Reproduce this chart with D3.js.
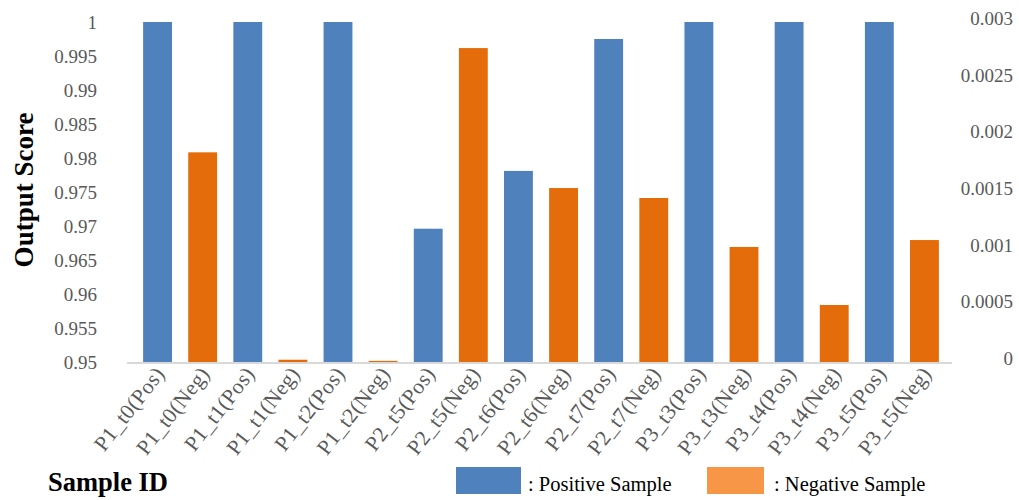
<!DOCTYPE html>
<html>
<head>
<meta charset="utf-8">
<script src="https://cdn.jsdelivr.net/npm/d3@7"></script>
<style>
  html, body { margin: 0; padding: 0; background: #fff; }
  svg { display: block; }
</style>
</head>
<body>
<svg id="chart" width="1019" height="500"></svg>
<script>
// Sample IDs along the x axis
const categories = [
  "P1_t0(Pos)", "P1_t0(Neg)", "P1_t1(Pos)", "P1_t1(Neg)", "P1_t2(Pos)", "P1_t2(Neg)",
  "P2_t5(Pos)", "P2_t5(Neg)", "P2_t6(Pos)", "P2_t6(Neg)", "P2_t7(Pos)", "P2_t7(Neg)",
  "P3_t3(Pos)", "P3_t3(Neg)", "P3_t4(Pos)", "P3_t4(Neg)", "P3_t5(Pos)", "P3_t5(Neg)"
];
// Positive samples: output score on the left axis
const positiveIds = ["P1_t0(Pos)", "P1_t1(Pos)", "P1_t2(Pos)", "P2_t5(Pos)", "P2_t6(Pos)",
                     "P2_t7(Pos)", "P3_t3(Pos)", "P3_t4(Pos)", "P3_t5(Pos)"];
const positiveScores = [1.0, 1.0, 1.0, 0.9696, 0.9781, 0.9975, 1.0, 1.0, 1.0];
// Negative samples: output score on the right axis
const negativeIds = ["P1_t0(Neg)", "P1_t1(Neg)", "P1_t2(Neg)", "P2_t5(Neg)", "P2_t6(Neg)",
                     "P2_t7(Neg)", "P3_t3(Neg)", "P3_t4(Neg)", "P3_t5(Neg)"];
const negativeScores = [0.00185, 0.00002, 0.00001, 0.00277, 0.001535, 0.001447, 0.001015, 0.000503, 0.001076];
// Axis ticks
const leftTicks = [0.95, 0.955, 0.96, 0.965, 0.97, 0.975, 0.98, 0.985, 0.99, 0.995, 1];
const leftTickLabels = ["0.95", "0.955", "0.96", "0.965", "0.97", "0.975", "0.98", "0.985", "0.99", "0.995", "1"];
const rightTicks = [0, 0.0005, 0.001, 0.0015, 0.002, 0.0025, 0.003];
const rightTickLabels = ["0", "0.0005", "0.001", "0.0015", "0.002", "0.0025", "0.003"];

const BLUE = "#4F81BD", ORANGE = "#E46C0A", ORANGE_LEGEND = "#F79646";
const TICK_COLOR = "#595959", AXIS_COLOR = "#D9D9D9";
const SERIF = "'Liberation Serif', 'Times New Roman', serif";

const svg = d3.select("#chart");
const plotTop = 22, plotBottom = 362;

const x = d3.scaleBand().domain(categories).range([135, 947])
  .paddingInner(0.36).paddingOuter(0.18);
const yLeft = d3.scaleLinear().domain([0.95, 1]).range([plotBottom, plotTop]);
const yRight = d3.scaleLinear().domain([0, 0.003]).range([plotBottom, plotTop]);

// Bars
svg.append("g").selectAll("rect")
  .data(positiveIds.map((id, i) => ({ id, v: positiveScores[i] })))
  .join("rect")
  .attr("x", d => x(d.id))
  .attr("width", x.bandwidth())
  .attr("y", d => yLeft(d.v))
  .attr("height", d => plotBottom - yLeft(d.v))
  .attr("fill", BLUE);

svg.append("g").selectAll("rect")
  .data(negativeIds.map((id, i) => ({ id, v: negativeScores[i] })))
  .join("rect")
  .attr("x", d => x(d.id))
  .attr("width", x.bandwidth())
  .attr("y", d => yRight(d.v))
  .attr("height", d => plotBottom - yRight(d.v))
  .attr("fill", ORANGE);

// Category axis line
svg.append("line")
  .attr("x1", 127).attr("x2", 952)
  .attr("y1", plotBottom + 1).attr("y2", plotBottom + 1)
  .attr("stroke", AXIS_COLOR).attr("stroke-width", 2);

// Left axis labels
const leftAxis = d3.axisLeft(yLeft).tickValues(leftTicks)
  .tickFormat((d, i) => leftTickLabels[i]).tickSize(0).tickPadding(0);
const gl = svg.append("g").attr("transform", "translate(97,0)").call(leftAxis);
gl.select(".domain").remove();
gl.selectAll("text")
  .attr("font-family", SERIF).attr("font-size", 19).attr("fill", TICK_COLOR)
  .attr("dy", "0.34em");

// Right axis labels
const rightAxis = d3.axisLeft(yRight).tickValues(rightTicks)
  .tickFormat((d, i) => rightTickLabels[i]).tickSize(0).tickPadding(0);
const gr = svg.append("g").attr("transform", "translate(1013,-4)").call(rightAxis);
gr.select(".domain").remove();
gr.selectAll("text")
  .attr("font-family", SERIF).attr("font-size", 19).attr("fill", TICK_COLOR)
  .attr("dy", "0.34em");

// Rotated category labels
svg.append("g").selectAll("text")
  .data(categories)
  .join("text")
  .attr("transform", d => `translate(${x(d) + x.bandwidth() / 2 + 8},${plotBottom + 12}) rotate(-52)`)
  .attr("text-anchor", "end")
  .attr("font-family", SERIF).attr("font-size", 21.5).attr("letter-spacing", 0.4)
  .attr("fill", TICK_COLOR)
  .text(d => d);

// Axis titles
svg.append("text")
  .attr("transform", "translate(33,190) rotate(-90)")
  .attr("text-anchor", "middle")
  .attr("font-family", SERIF).attr("font-size", 27).attr("font-weight", "bold")
  .attr("fill", "#000")
  .text("Output Score");

svg.append("text")
  .attr("x", 48).attr("y", 491)
  .attr("font-family", SERIF).attr("font-size", 26.5).attr("font-weight", "bold")
  .attr("fill", "#000")
  .text("Sample ID");

// Legend
const legend = [
  { label: ": Positive Sample", color: BLUE, x: 456, w: 65, tx: 528 },
  { label: ": Negative Sample", color: ORANGE_LEGEND, x: 707, w: 57, tx: 774 }
];
const lg = svg.append("g").selectAll("g").data(legend).join("g");
lg.append("rect")
  .attr("x", d => d.x).attr("y", 467).attr("width", d => d.w).attr("height", 27)
  .attr("fill", d => d.color);
lg.append("text")
  .attr("x", d => d.tx).attr("y", 491)
  .attr("font-family", SERIF).attr("font-size", 20.5).attr("fill", "#000")
  .text(d => d.label);
</script>
</body>
</html>
